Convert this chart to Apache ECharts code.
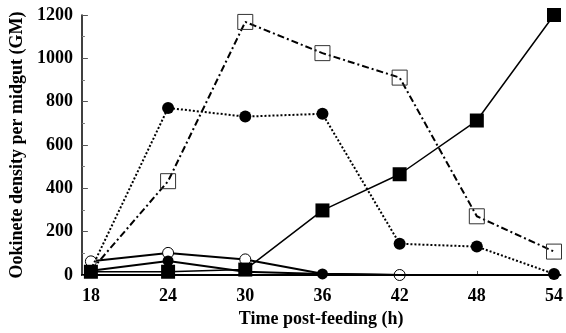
<!DOCTYPE html>
<html><head><meta charset="utf-8">
<script src="https://cdn.jsdelivr.net/npm/echarts@6/dist/echarts.min.js"></script>
<style>html,body{margin:0;padding:0;background:#fff}#c{width:566px;height:333px}</style>
</head><body><div id="c"></div>
<script>
const hours = [18, 24, 30, 36, 42, 48, 54];
const yTicks = [0, 200, 400, 600, 800, 1000, 1200];
const filledSquares = [15, 15, 25, 298, 465, 713, 1200];
const openSquares = [20, 433, 1168, 1024, 911, 271, 108];
const filledCirclesDotted = [25, 771, 731, 744, 144, 131, 5];
const openCircles = [63, 102, 72, 6, 0, 0, 0];
const filledCirclesSolid = [20, 65, 15, 5, 0, 0, 0];
// which points show a visible marker in the reference
const openSquaresShown = [0, 1, 1, 1, 1, 1, 1];
const filledCirclesDottedShown = [0, 1, 1, 1, 1, 1, 1];
const openCirclesShown = [1, 1, 1, 0, 1, 0, 0];
const filledCirclesSolidShown = [0, 1, 0, 1, 0, 0, 0];

const pair = (arr, shown) => hours.map((h, i) => {
  const d = {value: [h, arr[i]]};
  if (shown && !shown[i]) d.symbol = 'none';
  return d;
});
const font = 'Liberation Serif';
const chart = echarts.init(document.getElementById('c'));
chart.setOption({
  animation: false,
  grid: {left: 81, right: 3, top: 15, bottom: 52},
  xAxis: {
    type: 'value', min: 17.3, max: 54.5,
    name: 'Time post-feeding (h)', nameLocation: 'middle', nameGap: 35,
    nameTextStyle: {fontFamily: font, fontWeight: 'bold', fontSize: 18, color: '#000'},
    axisLine: {lineStyle: {color: '#000', width: 2}},
    axisTick: {show: true, inside: true, length: 4, customValues: hours, lineStyle: {color: '#555'}},
    axisLabel: {customValues: hours, fontFamily: font, fontWeight: 'bold', fontSize: 18, color: '#000', margin: 12},
    splitLine: {show: false}
  },
  yAxis: {
    type: 'value', min: 0, max: 1200, interval: 200,
    name: 'Ookinete density per midgut (GM)', nameLocation: 'middle', nameGap: 55, nameRotate: 90,
    nameTextStyle: {fontFamily: font, fontWeight: 'bold', fontSize: 18, color: '#000'},
    axisLine: {show: true, lineStyle: {color: '#000', width: 1.5}},
    axisTick: {show: true, inside: true, length: 6, lineStyle: {color: '#555'}},
    minorTick: {show: true, splitNumber: 2, length: 3, lineStyle: {color: '#777'}},
    axisLabel: {fontFamily: font, fontWeight: 'bold', fontSize: 18, color: '#000', margin: 9,
      formatter: v => String(v)},
    splitLine: {show: false}
  },
  series: [
    {type: 'line', data: pair(openCircles, openCirclesShown), symbol: 'circle', symbolSize: 11, clip: false,
     lineStyle: {color: '#000', width: 2}, itemStyle: {color: '#fff', borderColor: '#000', borderWidth: 1}, z: 2},
    {type: 'line', data: pair(filledCirclesSolid, filledCirclesSolidShown), symbol: 'circle', symbolSize: 11, clip: false,
     lineStyle: {color: '#000', width: 2}, itemStyle: {color: '#000'}, z: 3},
    {type: 'line', data: pair(openSquares, openSquaresShown), symbol: 'rect', symbolSize: 15, clip: false,
     lineStyle: {color: '#000', width: 2, type: [7, 3, 2, 3]}, itemStyle: {color: 'rgba(255,255,255,0)', borderColor: '#333', borderWidth: 1}, z: 4},
    {type: 'line', data: pair(filledCirclesDotted, filledCirclesDottedShown), symbol: 'circle', symbolSize: 12, clip: false,
     lineStyle: {color: '#000', width: 2, type: [2, 2]}, itemStyle: {color: '#000'}, z: 5},
    {type: 'line', data: pair(filledSquares), symbol: 'rect', symbolSize: 14, clip: false,
     lineStyle: {color: '#000', width: 1.5}, itemStyle: {color: '#000'}, z: 6}
  ]
});
</script></body></html>
